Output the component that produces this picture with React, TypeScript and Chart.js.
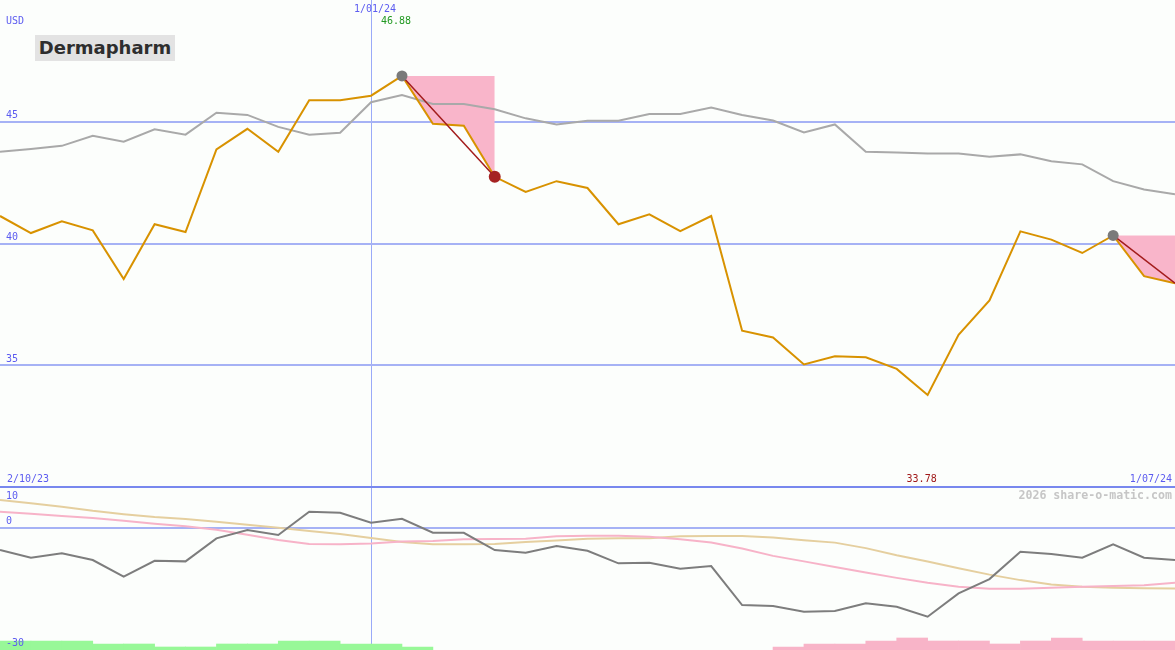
import React, { useEffect, useRef } from "react";
import { Chart, registerables } from "chart.js";
Chart.register(...registerables);

// ---------- data ----------
const title = "Dermapharm";
const currency = "USD";
const dateLabels = ["2/10/23", "1/01/24", "1/07/24"];
const dateIndexes = [0, 12, 38];

const priceValues = [
  41.13, 40.43, 40.91, 40.54, 38.54, 40.79, 40.47, 43.86, 44.71, 43.77,
  45.88, 45.88, 46.07, 46.88, 44.92, 44.84, 42.74, 42.12, 42.56, 42.28,
  40.79, 41.2, 40.51, 41.13, 36.42, 36.14, 35.03, 35.37, 35.33, 34.85,
  33.78, 36.25, 37.66, 40.5, 40.16, 39.61, 40.33, 38.66, 38.37,
];
const compareValues = [
  43.77, 43.88, 44.01, 44.42, 44.18, 44.69, 44.47, 45.37, 45.28, 44.79,
  44.47, 44.55, 45.8, 46.1, 45.73, 45.73, 45.51, 45.14, 44.89, 45.04,
  45.04, 45.32, 45.32, 45.58, 45.28, 45.05, 44.56, 44.89, 43.77, 43.74,
  43.7, 43.7, 43.56, 43.66, 43.38, 43.25, 42.56, 42.22, 42.02,
];
const momentumValues = [
  -5.47, -7.36, -6.28, -7.93, -12.02, -8.1, -8.25, -2.6, -0.56, -1.79,
  3.93, 3.68, 1.23, 2.2, -1.23, -1.23, -5.47, -6.13, -4.49, -5.64,
  -8.74, -8.59, -10.06, -9.4, -18.97, -19.21, -20.6, -20.44, -18.55, -19.39,
  -21.84, -16.1, -12.59, -5.89, -6.45, -7.36, -4.07, -7.36, -7.93,
];
const slowAvgValues = [
  6.8, 6.04, 5.18, 4.16, 3.34, 2.62, 2.12, 1.5, 0.73, -0.02,
  -0.78, -1.54, -2.5, -3.5, -4.07, -4.07, -4.0, -3.5, -3.1, -2.7,
  -2.6, -2.6, -2.1, -2.05, -2.05, -2.4, -3.05, -3.65, -5.0, -6.76,
  -8.3, -9.95, -11.5, -12.85, -13.9, -14.5, -14.75, -14.85, -14.9,
];
const fastAvgValues = [
  3.93, 3.43, 2.9, 2.41, 1.7, 0.98, 0.37, -0.5, -1.7, -3.0,
  -4.0, -4.05, -3.85, -3.4, -3.27, -2.8, -2.77, -2.7, -2.1, -1.96,
  -1.96, -2.2, -2.8, -3.6, -5.1, -6.9, -8.25, -9.65, -11.0, -12.3,
  -13.5, -14.5, -14.95, -14.95, -14.75, -14.5, -14.3, -14.1, -13.5,
];
// signal strength per interval (between week i and i+1); + green, - pink
const signalLevels = [
  3, 3, 3, 2, 2, 1, 1, 2, 2, 3, 3, 2, 2, 1,
  0, 0, 0, 0, 0, 0, 0, 0, 0, 0, 0,
  -1, -2, -2, -3, -4, -3, -3, -2, -3, -4, -3, -3, -3,
];
const drawdownPeaks = [13, 36];
const drawdownTroughs = [16, 38];
const topTicks = [45, 40, 35];
const bottomTicks = [10, 0, -30];
const watermark = "2026 share-o-matic.com";

// ---------- styles ----------
const BG = "#fcfefc";
const BLUE_TXT = "#5c5cf0";
const GRID = "#a6b2f5";
const VLINE = "#9aaaf8";
const DIVIDER = "#7888ee";
const MONO = '"DejaVu Sans Mono", monospace';

const N = priceValues.length;
const pts = (arr: number[]) => arr.map((y, i) => ({ x: i, y }));

const hiVal = Math.max(...priceValues);
const hiIdx = priceValues.indexOf(hiVal);
const loVal = Math.min(...priceValues);
const loIdx = priceValues.indexOf(loVal);

const xScale = () => ({
  type: "linear",
  min: 0,
  max: N - 1,
  offset: false,
  afterBuildTicks: (s: any) => {
    s.ticks = [{ value: dateIndexes[1] }];
  },
  afterFit: (s: any) => {
    s.height = 0;
  },
  ticks: { display: false },
  grid: { color: VLINE, lineWidth: 1, drawTicks: false, offset: false },
  border: { display: false },
});

const topTextPlugin = {
  id: "topText",
  afterDatasetsDraw(chart: any) {
    const { ctx, chartArea } = chart;
    const x = chart.scales.x;
    const y = chart.scales.y;
    ctx.save();
    ctx.font = `10px ${MONO}`;
    ctx.textBaseline = "middle";
    ctx.fillStyle = BLUE_TXT;
    ctx.textAlign = "left";
    topTicks.forEach((v) => ctx.fillText(String(v), 6, y.getPixelForValue(v) - 6));
    ctx.fillText(currency, 6, 21);
    ctx.fillText(dateLabels[0], x.getPixelForValue(dateIndexes[0]) + 7, chartArea.bottom - 8);
    ctx.textAlign = "right";
    ctx.fillText(dateLabels[2], x.getPixelForValue(dateIndexes[2]) - 3, chartArea.bottom - 8);
    ctx.textAlign = "center";
    ctx.fillText(dateLabels[1], x.getPixelForValue(dateIndexes[1]) + 4, 9);
    ctx.fillStyle = "#229922";
    ctx.fillText(hiVal.toFixed(2), x.getPixelForValue(hiIdx) - 6, 21);
    ctx.fillStyle = "#a01818";
    ctx.fillText(loVal.toFixed(2), x.getPixelForValue(loIdx) - 6, chartArea.bottom - 8);
    ctx.restore();
  },
};

const bottomTextPlugin = {
  id: "bottomText",
  afterDatasetsDraw(chart: any) {
    const { ctx, chartArea } = chart;
    const y = chart.scales.y;
    ctx.save();
    ctx.font = `10px ${MONO}`;
    ctx.textBaseline = "middle";
    ctx.fillStyle = BLUE_TXT;
    ctx.textAlign = "left";
    bottomTicks.forEach((v) => {
      const py = Math.max(y.getPixelForValue(v) - 6.5, chartArea.top + 9);
      ctx.fillText(String(v), 6, py);
    });
    ctx.font = `bold 11.6px ${MONO}`;
    ctx.fillStyle = "#c6c6c6";
    ctx.textAlign = "right";
    ctx.fillText(watermark, chartArea.right - 3, chartArea.top + 9);
    ctx.restore();
  },
};

export default function App() {
  const topRef = useRef<HTMLCanvasElement>(null);
  const botRef = useRef<HTMLCanvasElement>(null);

  useEffect(() => {
    const connectors = drawdownPeaks.map((p, k) => {
      const t = drawdownTroughs[k];
      return {
        data: [
          { x: p, y: priceValues[p] },
          { x: t, y: priceValues[t] },
        ],
        borderColor: "#a31c1c",
        borderWidth: 1.5,
        pointRadius: [5.5, t === N - 1 ? 0 : 6],
        pointBackgroundColor: ["#7a7a7a", "#a52222"],
        pointBorderWidth: 0,
        fill: false,
      };
    });
    const fills = drawdownPeaks.map((p, k) => {
      const t = drawdownTroughs[k];
      const d: { x: number; y: number }[] = [];
      for (let i = p; i <= t; i++) d.push({ x: i, y: priceValues[p] });
      return {
        data: d,
        borderWidth: 0,
        borderColor: "rgba(0,0,0,0)",
        pointRadius: 0,
        backgroundColor: "#f9b5ca",
        fill: { target: 2 },
      };
    });

    const top = new Chart(topRef.current as HTMLCanvasElement, {
      type: "line",
      data: {
        datasets: [
          ...connectors,
          {
            data: pts(priceValues),
            borderColor: "#d89200",
            borderWidth: 2,
            pointRadius: 0,
            fill: false,
          },
          {
            data: pts(compareValues),
            borderColor: "#a9a9a9",
            borderWidth: 2,
            pointRadius: 0,
            fill: false,
          },
          ...fills,
        ] as any,
      },
      options: {
        animation: false,
        responsive: false,
        maintainAspectRatio: false,
        events: [],
        layout: { padding: 0, autoPadding: false },
        plugins: {
          legend: { display: false },
          tooltip: { enabled: false },
          filler: { drawTime: "beforeDatasetsDraw" },
        } as any,
        scales: {
          x: xScale() as any,
          y: {
            min: 30,
            max: 50,
            afterBuildTicks: (s: any) => {
              s.ticks = topTicks.map((v) => ({ value: v }));
            },
            afterFit: (s: any) => {
              s.width = 0;
            },
            ticks: { display: false },
            grid: { color: GRID, lineWidth: 2, drawTicks: false },
            border: { display: false },
          },
        },
      } as any,
      plugins: [topTextPlugin],
    });

    const bot = new Chart(botRef.current as HTMLCanvasElement, {
      type: "line",
      data: {
        datasets: [
          {
            data: pts(momentumValues),
            borderColor: "#7d7d7d",
            borderWidth: 2,
            pointRadius: 0,
            fill: false,
          },
          {
            data: pts(fastAvgValues),
            borderColor: "#f7b3c8",
            borderWidth: 2,
            pointRadius: 0,
            fill: false,
          },
          {
            data: pts(slowAvgValues),
            borderColor: "#e5cf9f",
            borderWidth: 2,
            pointRadius: 0,
            fill: false,
          },
          {
            type: "bar",
            yAxisID: "yb",
            data: signalLevels
              .map((v, i) => ({ x: i + 0.5, y: v }))
              .filter((d) => d.y > 0),
            backgroundColor: "#98f898",
            borderWidth: 0,
            barPercentage: 1,
            categoryPercentage: 1,
            grouped: false,
          },
          {
            type: "bar",
            yAxisID: "yb",
            data: signalLevels
              .map((v, i) => ({ x: i + 0.5, y: -v }))
              .filter((d) => d.y > 0),
            backgroundColor: "#f8b4c8",
            borderWidth: 0,
            barPercentage: 1,
            categoryPercentage: 1,
            grouped: false,
          },
        ] as any,
      },
      options: {
        animation: false,
        responsive: false,
        maintainAspectRatio: false,
        events: [],
        layout: { padding: { top: 1, left: 0, right: 0, bottom: 0 }, autoPadding: false },
        plugins: {
          legend: { display: false },
          tooltip: { enabled: false },
        },
        scales: {
          x: xScale() as any,
          y: {
            min: -30,
            max: 10,
            afterBuildTicks: (s: any) => {
              s.ticks = bottomTicks.map((v) => ({ value: v }));
            },
            afterFit: (s: any) => {
              s.width = 0;
            },
            ticks: { display: false },
            grid: {
              color: (c: any) =>
                c.tick && c.tick.value === 10
                  ? DIVIDER
                  : c.tick && c.tick.value === 0
                  ? GRID
                  : "rgba(0,0,0,0)",
              lineWidth: 2,
              drawTicks: false,
            },
            border: { display: false },
          },
          yb: {
            display: false,
            min: 0,
            max: 54.3,
          },
        } as any,
      } as any,
      plugins: [bottomTextPlugin],
    });

    return () => {
      top.destroy();
      bot.destroy();
    };
  }, []);

  return (
    <div
      style={{
        position: "fixed",
        left: 0,
        top: 0,
        width: 1175,
        height: 650,
        background: BG,
        overflow: "hidden",
      }}
    >
      <canvas
        ref={topRef}
        width={1175}
        height={487}
        style={{ position: "absolute", left: 0, top: 0, width: 1175, height: 487 }}
      />
      <canvas
        ref={botRef}
        width={1175}
        height={164}
        style={{ position: "absolute", left: 0, top: 486, width: 1175, height: 164 }}
      />
      <div
        style={{
          position: "absolute",
          left: 35,
          top: 35,
          width: 140,
          height: 26,
          background: "#e3e3e3",
          color: "#2e2e2e",
          font: 'bold 18px "DejaVu Sans", sans-serif',
          lineHeight: "25px",
          textAlign: "center",
        }}
      >
        {title}
      </div>
    </div>
  );
}
